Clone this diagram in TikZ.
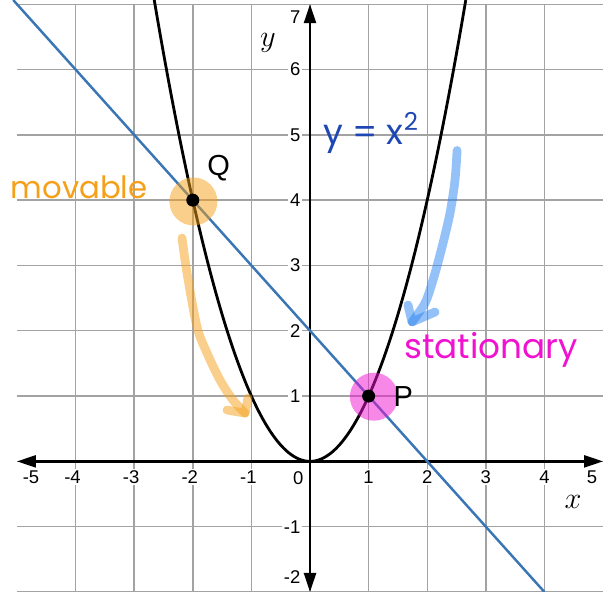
\documentclass[tikz,border=0pt]{standalone}
\usepackage{fontspec}
\setmainfont{Liberation Sans}
\newfontfamily\handfont{Poppins}
\usetikzlibrary{arrows.meta, positioning, calc}

\begin{document}
\begin{tikzpicture}[
    x=1.172cm, y=1.306cm,
    every node/.style={font=\fontsize{10.5}{12}\selectfont},
]

% ---------------------------------------------------------------- colours
\definecolor{gridcolor}{HTML}{A3A3A3}
\definecolor{linecolor}{HTML}{3A76B6}   % the line through P and Q
\definecolor{penorange}{HTML}{F5A01A}   % movable
\definecolor{penpink}{HTML}{F012D0}     % stationary
\definecolor{penblue}{HTML}{1E47B3}     % the parabola's name
\definecolor{penlight}{HTML}{2A84F0}    % the blue stroke

\tikzset{
    tick/.style={fill=white, inner sep=1pt},
    ticky/.style={tick, anchor=east},
    dot/.style={circle, fill=black, minimum size=0.26cm, inner sep=0pt},
    glow/.style={circle, minimum size=0.96cm, inner sep=0pt, fill opacity=0.5},
    pen/.style={line width=5pt, line cap=round, line join=round, opacity=0.5},
    hand/.style={font=\handfont\fontsize{#1}{#1}\selectfont},
    ptlabel/.style={font=\fontsize{16.5}{18}\selectfont},
    axistip/.style={{Triangle[length=0.38cm, width=0.24cm]}-{Triangle[length=0.38cm, width=0.24cm]}},
}

\useasboundingbox (-5.29, -2.0) rectangle (5.17, 7.065);

% ---------------------------------------------------------------- grid
\foreach \y in {-2,...,7}
    \draw[gridcolor, line width=0.8pt] (-5, \y) -- (5, \y);
\foreach \x in {-4,...,4}
    \draw[gridcolor, line width=0.8pt] (\x, -2) -- (\x, 7);

% ---------------------------------------------------------------- tick labels
\foreach \k in {1,...,4} {
    \node[tick] at (\k, -0.24) {\k};
    \node[tick] at (-\k, -0.24) {\llap{-}\k};
}
\node[tick] at (-4.76, -0.25) {-5};
\node[tick] at (4.81, -0.24) {5};
\node[tick] at (-0.2, -0.26) {0};
\foreach \k in {1,...,6}
    \node[ticky] at (-0.13, \k) {\k};
\node[ticky] at (-0.13, 6.8) {7};
\node[ticky] at (-0.13, -1) {-1};
\node[ticky] at (-0.13, -1.765) {-2};

% ---------------------------------------------------------------- axes
\draw[axistip, line width=1.4pt] (-5, 0) -- (5, 0);
\draw[axistip, line width=1.4pt] (0, -2) -- (0, 7);
\node[font=\fontsize{18}{20}\selectfont] (xlab) at (4.49, -0.62) {$x$};
\node[font=\fontsize{18}{20}\selectfont] (ylab) at (-0.72, 6.41) {$y$};

% ---------------------------------------------------------------- curves
\draw[line width=1.6pt, domain=-2.659:2.659, samples=90, smooth]
    plot (\x, {\x*\x});
\draw[linecolor, line width=1.4pt] (-5.065, 7.065) -- (4, -2);

% ---------------------------------------------------------------- highlights
\node[glow, fill=penorange] (Qglow) at (-1.99, 3.98) {};
\node[glow, fill=penpink] (Pglow) at (1.09, 0.99) {};

\node[dot] (Q) at (-2, 4) {};
\node[dot] (P) at (1, 1) {};
\node[ptlabel] (Qlab) at (-1.56, 4.49) {Q};
\node[ptlabel] (Plab) at (1.59, 1.0) {P};

% ---------------------------------------------------------------- pen notes
\node[hand=17.5, text=penorange] (movable) at (-3.94, 4.19) {movable};
\node[hand=20, text=penblue] (parabname) at (1.04, 5.03)
    {y = x\textsuperscript{2}};
\node[hand=19.5, text=penpink] (stationary) at (3.09, 1.70) {stationary};

% orange stroke, Q slides down the parabola
\draw[pen, penorange] plot[smooth] coordinates {(-2.184, 3.42) (-2.099, 2.885)
    (-1.928, 2.058) (-1.758, 1.66) (-1.536, 1.245) (-1.314, 0.939) (-1.109, 0.74)};
\draw[pen, penorange] (-1.416, 0.786) -- (-1.109, 0.74) -- (-1.058, 0.97);

% blue stroke, pointing at the fixed point
\draw[pen, penlight] plot[smooth] coordinates {(2.509, 4.76) (2.474, 4.308)
    (2.389, 3.803) (2.253, 3.282) (2.099, 2.777) (1.962, 2.424) (1.741, 2.136)};
\draw[pen, penlight] (1.672, 2.394) -- (1.741, 2.136) -- (2.133, 2.287);

\end{tikzpicture}
\end{document}
